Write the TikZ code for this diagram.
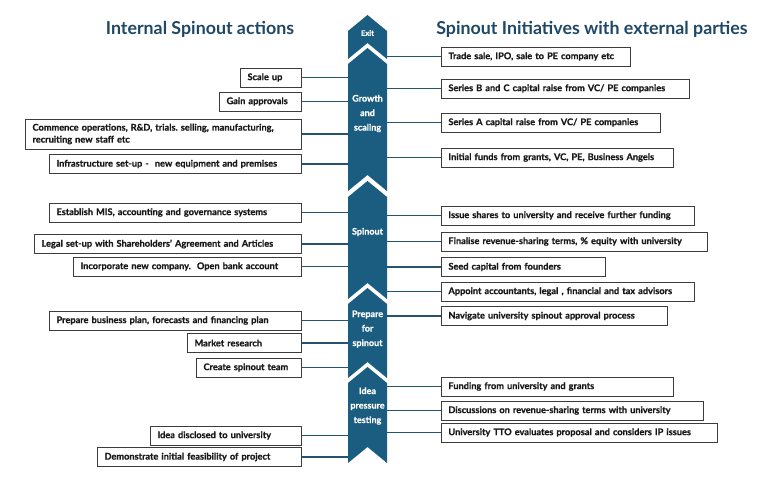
\documentclass[tikz,border=0pt]{standalone}
\usepackage{fontspec}
\setmainfont{Lato}
\newfontfamily\boxfont{Lato}[BoldFeatures={FakeBold=0.8}]
\definecolor{spine}{RGB}{27,93,128}
\definecolor{ttl}{RGB}{31,72,102}
\definecolor{conncol}{RGB}{36,84,114}
\definecolor{bord}{RGB}{60,60,60}
\frenchspacing
\begin{document}
\begin{tikzpicture}[x=1pt,y=-1pt,
 box/.style={draw=bord, line width=0.9pt, fill=white, inner xsep=7pt, inner ysep=0pt,
   minimum height=19pt, font=\boxfont\fontsize{9.2}{12}\selectfont\bfseries, align=left, text=black!90},
 lbox/.style={box, anchor=east},
 rbox/.style={box, anchor=west},
 conn/.style={draw=conncol, line width=1.1pt},
 seg/.style={fill=spine},
 stxt/.style={text=white, font=\boxfont\fontsize{9}{14.5}\selectfont\bfseries, align=center},
 ttlstyle/.style={text=ttl, font=\fontsize{17.8}{20}\selectfont\bfseries}]
\useasboundingbox (0,0) rectangle (768,485);
\fill[white] (0,0) rectangle (768,485);

% titles
\node[ttlstyle] (tl) at (200,29) {Internal Spinout actions};
\node[ttlstyle] (tr) at (592,29) {Spinout Initiatives with external parties};

% spine
\fill[seg] (348,31) -- (367.5,15) -- (387,31) -- (387,59) -- (367.5,43) -- (348,59) -- cycle;
\fill[seg] (348,64) -- (367.5,48) -- (387,64) -- (387,191) -- (367.5,175) -- (348,191) -- cycle;
\fill[seg] (348,197) -- (367.5,181) -- (387,197) -- (387,299) -- (367.5,283) -- (348,299) -- cycle;
\fill[seg] (348,304) -- (367.5,288) -- (387,304) -- (387,378) -- (367.5,362) -- (348,378) -- cycle;
\fill[seg] (348,383) -- (367.5,367) -- (387,383) -- (387,463) -- (367.5,447) -- (348,463) -- cycle;

\coordinate (spL) at (348,0);
\coordinate (spR) at (387,0);

% spine labels
\node[stxt, font=\boxfont\fontsize{7.5}{9}\selectfont\bfseries] (sExit) at (367.5,33) {Exit};
\node[stxt] (sGrow) at (367.5,113.5) {Growth\\and\\scaling};
\node[stxt] (sSpin) at (367.5,232) {Spinout};
\node[stxt] (sPrep) at (367.5,329) {Prepare\\for\\spinout};
\node[stxt] (sIdea) at (367.5,406) {Idea\\pressure\\testing};

% left boxes
\node[lbox, text width=47pt] (l1) at (302,77.5) {Scale up};
\node[lbox, text width=68pt] (l2) at (302,101.5) {Gain approvals};
\node[lbox, text width=262pt, minimum height=30pt] (l3) at (302,134) {Commence operations, R\&D, trials. selling, manufacturing,\\recruiting new staff etc};
\node[lbox, text width=238pt] (l4) at (302,164) {Infrastructure set-up -\ \ new equipment and premises};
\node[lbox, text width=238pt] (l5) at (302,212.5) {Establish MIS, accounting and governance systems};
\node[lbox, text width=253pt] (l6) at (302,244) {Legal set-up with Shareholders’ Agreement and Articles};
\node[lbox, text width=214pt] (l7) at (302,266.5) {Incorporate new company.\ \ Open bank account};
\node[lbox, text width=238pt] (l8) at (302,320.5) {Prepare business plan, forecasts and financing plan};
\node[lbox, text width=100pt] (l9) at (302,343) {Market research};
\node[lbox, text width=91pt] (l10) at (302,367.5) {Create spinout team};
\node[lbox, text width=137pt] (l11) at (302,435.5) {Idea disclosed to university};
\node[lbox, text width=190pt] (l12) at (302,457) {Demonstrate initial feasibility of project};

% right boxes
\node[rbox, text width=175pt] (r1) at (441,56.5) {Trade sale, IPO, sale to PE company etc};
\node[rbox, text width=234pt] (r2) at (441,88.5) {Series B and C capital raise from VC/ PE companies};
\node[rbox, text width=205pt] (r3) at (441,122.5) {Series A capital raise from VC/ PE companies};
\node[rbox, text width=218pt] (r4) at (441,157.5) {Initial funds from grants, VC, PE, Business Angels};
\node[rbox, text width=239pt] (r5) at (441,215.5) {Issue shares to university and receive further funding};
\node[rbox, text width=252pt] (r6) at (441,241.5) {Finalise revenue-sharing terms, \% equity with university};
\node[rbox, text width=150pt] (r7) at (441,267) {Seed capital from founders};
\node[rbox, text width=239pt] (r8) at (441,291.5) {Appoint accountants, legal , financial and tax advisors};
\node[rbox, text width=212pt] (r9) at (441,316) {Navigate university spinout approval process};
\node[rbox, text width=218pt] (r10) at (441,386.5) {Funding from university and grants};
\node[rbox, text width=248pt] (r11) at (441,410.5) {Discussions on revenue-sharing terms with university};
\node[rbox, text width=262pt] (r12) at (441,432.5) {University TTO evaluates proposal and considers IP issues};

% connectors
\foreach \n in {l1,l2,l3,l4,l5,l6,l7,l8,l9,l10,l11,l12}
  \draw[conn] (\n.east) -- (\n.east -| spL);
\foreach \n in {r1,r2,r3,r4,r5,r6,r7,r8,r9,r10,r11,r12}
  \draw[conn] (\n.west) -- (\n.west -| spR);
\end{tikzpicture}
\end{document}
